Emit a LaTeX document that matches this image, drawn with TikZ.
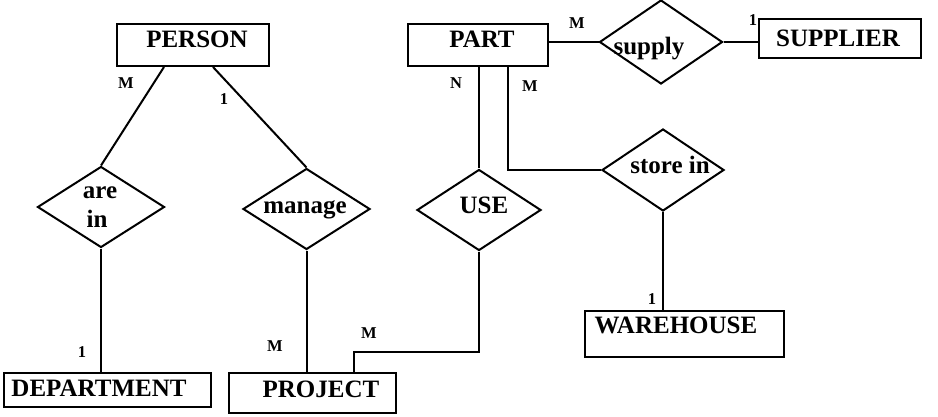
\documentclass[tikz,border=0pt]{standalone}
\usepackage{fontspec}
\setmainfont{Liberation Serif}
\usetikzlibrary{shapes.geometric}
\begin{document}
\begin{tikzpicture}[x=1pt,y=-1pt,
  ent/.style={draw,line width=2pt,rectangle,inner sep=0pt},
  rel/.style={draw,line width=2pt,diamond,inner sep=0pt},
  txt/.style={inner sep=0pt,font=\fontsize{25}{29}\selectfont\bfseries},
  card/.style={inner sep=0pt,font=\fontsize{16.5}{19}\selectfont\bfseries},
  conn/.style={line width=2pt}]
\useasboundingbox (0,0) rectangle (938,417);
% entities
\node[ent,minimum width=152,minimum height=42] (person) at (193,45) {};
\node[ent,minimum width=140,minimum height=42] (part) at (478,45) {};
\node[ent,minimum width=162,minimum height=39] (supplier) at (840,38.5) {};
\node[ent,minimum width=207,minimum height=34] (dept) at (107.5,390) {};
\node[ent,minimum width=167,minimum height=40] (project) at (312.5,393) {};
\node[ent,minimum width=199,minimum height=46] (warehouse) at (684.5,334) {};
% relationships
\node[rel,minimum width=127,minimum height=81] (arein) at (101,207) {};
\node[rel,minimum width=127,minimum height=81] (manage) at (306.5,209) {};
\node[rel,minimum width=124,minimum height=81] (use) at (479,210) {};
\node[rel,minimum width=122,minimum height=82] (store) at (663,170) {};
\node[rel,minimum width=123,minimum height=84] (supply) at (661,42) {};
% texts
\node[txt] (tperson) at (197,39) {PERSON};
\node[txt] (tpart) at (482,39) {PART};
\node[txt] (tsupplier) at (838,38) {SUPPLIER};
\node[txt] (tdept) at (99,388) {DEPARTMENT};
\node[txt] (tproject) at (321,389) {PROJECT};
\node[txt] (twarehouse) at (676,325) {WAREHOUSE};
\node[txt] (tare) at (100,193) {are};
\node[txt] (tin) at (97,219) {in};
\node[txt] (tmanage) at (305,210) {manage};
\node[txt] (tuse) at (484,205) {USE};
\node[txt] (tstore) at (670,165) {store in};
\node[txt] (tsupply) at (649,49) {supply};
% cardinalities
\node[card] (c1) at (126,83) {M};
\node[card] (c2) at (224,99) {1};
\node[card] (c3) at (82,352) {1};
\node[card] (c4) at (275,346) {M};
\node[card] (c5) at (369,333) {M};
\node[card] (c6) at (456,83) {N};
\node[card] (c7) at (530,86) {M};
\node[card] (c8) at (577,23) {M};
\node[card] (c9) at (753,20) {1};
\node[card] (c10) at (652,299) {1};
% connectors
\coordinate (pj) at ([xshift=41.5pt]project.north);
\coordinate (bend) at (479,352);
\draw[conn] ([xshift=-29pt]person.south) -- (arein.north);
\draw[conn] ([xshift=20pt]person.south) -- (manage.north);
\draw[conn] (arein.south) -- (arein.south |- dept.north);
\draw[conn] (manage.south) -- (manage.south |- project.north);
\draw[conn] (use.south) -- (bend) -| (pj);
\draw[conn] (part.south -| use.north) -- (use.north);
\draw[conn] ([xshift=30pt]part.south) |- (store.west);
\draw[conn] (part.east |- supply.west) -- (supply.west);
\draw[conn] (supply.east) -- (supplier.west |- supply.east);
\draw[conn] (store.south) -- (store.south |- warehouse.north);
\end{tikzpicture}
\end{document}
